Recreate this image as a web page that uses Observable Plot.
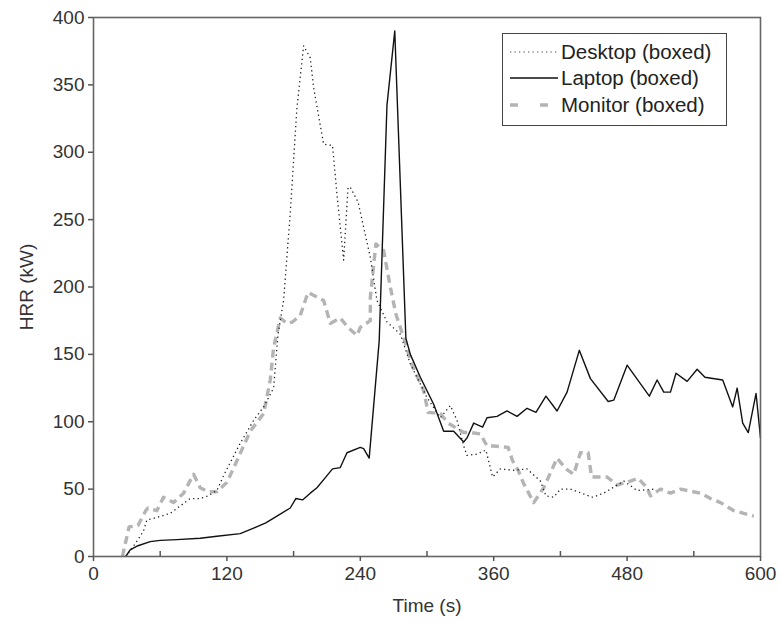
<!DOCTYPE html>
<html>
<head>
<meta charset="utf-8">
<script src="https://cdn.jsdelivr.net/npm/d3@7"></script>
<script src="https://cdn.jsdelivr.net/npm/@observablehq/plot@0.6"></script>
<style>
  html, body { margin: 0; padding: 0; background: #fff; }
  #wrap { position: relative; width: 780px; height: 623px; font-family: "Liberation Sans", Arial, sans-serif; }
  #legend { position: absolute; left: 502px; top: 33px; width: 225px; height: 93px; border: 1.3px solid #444; background: #fff; box-sizing: border-box; }
  #legend .row { position: absolute; left: 0; height: 26px; display: flex; align-items: center; }
  #legend svg { display: block; }
  #legend span { font-size: 20.5px; color: #222; margin-left: 3px; white-space: nowrap; }
</style>
</head>
<body>
<div id="wrap"><div id="legend"></div></div>
<script>
// ---- data (time in s, HRR in kW) ----
const seriesNames = ["Desktop (boxed)", "Laptop (boxed)", "Monitor (boxed)"];

const desktopT = [29,38,45,48,57,69,87,96,103,111,117,132,144,153,162,166,171,177,183,189,195,198,207,215,219,225,229,231,238,249,255,264,276,285,300,312,321,327,333,336,345,353,359,366,378,390,402,407,414,420,429,449,459,477,489,505];
const desktopV = [0,10,19,27,29,32,43,43,45,49,60,84,101,111,125,165,190,255,333,379,370,348,306,305,269,220,274,274,263,222,190,174,165,143,118,103,112,101,82,75,76,79,59,65,64,65,56,45,44,50,50,44,47,56,49,50];

const laptopT = [29,33,40,51,60,75,96,111,132,144,155,165,177,182,188,195,201,208,215,222,228,240,243,248,257,264,271,281,285,294,306,315,324,333,336,342,350,354,363,372,381,390,398,407,417,426,437,447,463,468,480,500,507,513,519,524,534,543,550,566,575,579,584,589,596,600];
const laptopV = [0,5,8,11,12,12.5,13.5,15,17,21,25,30,36,43,42,47,51,58,65,66,77,81,80,73,160,335,390,162,150,133,113,93,93,85,88,99,96,103,104,108,104,110,107,119,108,122,153,132,115,116,142,119,131,122,122,136,130,139,133,131,111,125,99,92,121,88];

const monitorT = [26,32,40,47,49,57,63,72,81,90,96,103,111,120,129,141,153,159,162,168,174,179,186,193,200,207,213,222,229,237,240,249,249,254,261,267,272,282,285,297,301,312,319,333,339,348,354,360,373,377,382,387,396,405,417,425,432,438,445,448,462,471,483,490,498,501,510,519,528,546,555,564,576,594];
const monitorV = [0,22,23,34,36,34,44,40,47,61,51,48,48,55,71,93,106,131,155,177,173,174,179,196,193,190,173,177,170,164,170,175,192,232,227,200,180,155,145,123,107,106,99,92,92,91,82,82,81,71,64,54,40,51,73,65,61,77,77,59,59,53,56,58,51,45,50,47,50,47,43,40,34,30];

const xTicksMajor = [0,120,240,360,480,600];
const xTicksMinor = [60,180,300,420,540];
const yTicks = [0,50,100,150,200,250,300,350,400];

const styles = {
  "Desktop (boxed)": {stroke: "#222", strokeWidth: 1.3, dash: "1.3,3.2"},
  "Laptop (boxed)":  {stroke: "#111", strokeWidth: 1.4, dash: null},
  "Monitor (boxed)": {stroke: "#b4b4b4", strokeWidth: 3.4, dash: "8,5"}
};

const toRows = (T, V) => T.map((t, i) => ({t, v: V[i]}));
const desktop = toRows(desktopT, desktopV);
const laptop = toRows(laptopT, laptopV);
const monitor = toRows(monitorT, monitorV);

function lineMark(data, name) {
  const s = styles[name];
  const o = {x: "t", y: "v", stroke: s.stroke, strokeWidth: s.strokeWidth, strokeLinejoin: "round", strokeLinecap: "butt"};
  if (s.dash) o.strokeDasharray = s.dash;
  return Plot.line(data, o);
}

const chart = Plot.plot({
  width: 780,
  height: 623,
  marginLeft: 93,
  marginRight: 20,
  marginTop: 17,
  marginBottom: 67,
  style: {fontFamily: "'Liberation Sans', Arial, sans-serif", fontSize: "19px", color: "#333", background: "#fff"},
  x: {domain: [0, 600]},
  y: {domain: [0, 400]},
  marks: [
    lineMark(monitor, "Monitor (boxed)"),
    lineMark(desktop, "Desktop (boxed)"),
    lineMark(laptop, "Laptop (boxed)"),
    Plot.frame({stroke: "#666", strokeWidth: 1.6}),
    Plot.axisX({ticks: xTicksMajor, tickSize: 5, tickPadding: 5, stroke: "#555", strokeWidth: 1.5, fontSize: 19,
      label: "Time (s)", labelAnchor: "center", labelArrow: "none", labelOffset: 55, fill: "#333"}),
    Plot.axisX({ticks: xTicksMinor, tickSize: -5, tickFormat: () => "", label: null, stroke: "#555", strokeWidth: 1.5}),
    Plot.axisY({ticks: yTicks, tickSize: 5, tickPadding: 4, stroke: "#555", strokeWidth: 1.5, fontSize: 19,
      label: "HRR (kW)", labelAnchor: "center", labelArrow: "none", labelOffset: 74, fill: "#333"})
  ]
});
document.getElementById("wrap").insertBefore(chart, document.getElementById("legend"));

// ---- legend ----
const legend = document.getElementById("legend");
const rowTops = [5, 31, 58];
seriesNames.forEach((name, i) => {
  const s = styles[name];
  const row = document.createElement("div");
  row.className = "row";
  row.style.top = rowTops[i] + "px";
  row.style.left = "7px";
  const ns = "http://www.w3.org/2000/svg";
  const svg = document.createElementNS(ns, "svg");
  svg.setAttribute("width", 48); svg.setAttribute("height", 10);
  const ln = document.createElementNS(ns, "line");
  ln.setAttribute("x1", 0); ln.setAttribute("x2", 48);
  ln.setAttribute("y1", 5); ln.setAttribute("y2", 5);
  ln.setAttribute("stroke", name.startsWith("Desktop") ? "#888" : s.stroke);
  ln.setAttribute("stroke-width", s.strokeWidth);
  if (s.dash) ln.setAttribute("stroke-dasharray", name.startsWith("Monitor") ? "8,22" : s.dash);
  svg.appendChild(ln);
  const sp = document.createElement("span");
  sp.textContent = name;
  row.appendChild(svg); row.appendChild(sp);
  legend.appendChild(row);
});
</script>
</body>
</html>
